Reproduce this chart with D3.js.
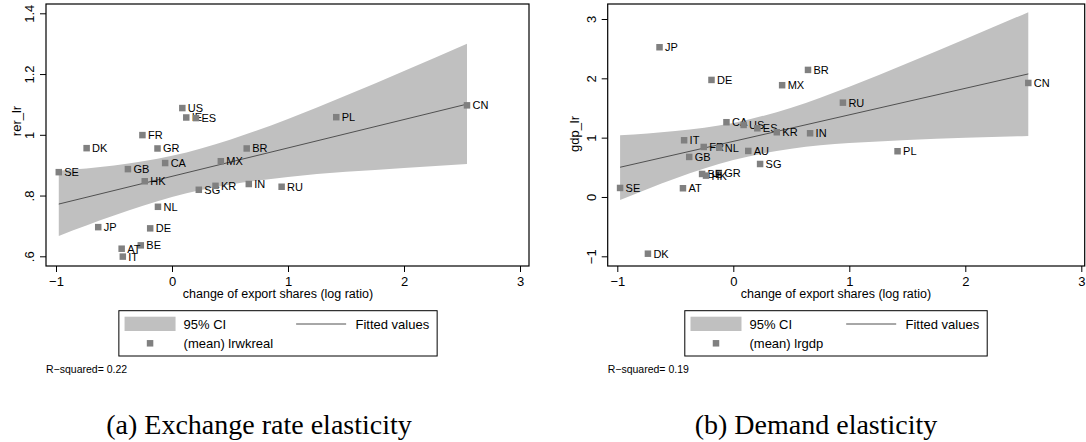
<!DOCTYPE html>
<html>
<head>
<meta charset="utf-8">
<script src="https://cdn.jsdelivr.net/npm/d3@7"></script>
<style>
  body { margin: 0; background: #fff; }
  svg text { font-family: "Liberation Sans", Arial, sans-serif; fill: #000; }
</style>
</head>
<body>
<div id="chart"></div>
<script>
// country codes, drawn in this order (later points sit on top of earlier labels)
const countries = ["SE","DK","FR","GR","CA","GB","BE","HK","US","IE","ES","MX","BR","SG","KR","IN","NL","JP","DE","AT","IT","RU","PL","CN","AU"];
// change of export shares (log ratio), shared by both panels
const exportShare = [-0.976,-0.736,-0.255,-0.125,-0.059,-0.380,-0.269,-0.235,0.089,0.123,0.207,0.421,0.644,0.231,0.375,0.662,-0.121,-0.636,-0.188,-0.434,-0.424,0.945,1.416,2.543,0.129];
// (mean) lrwkreal -> rer_lr, null = not in panel
const rerLr = [0.877,0.956,0.999,0.955,0.907,0.887,0.636,0.847,1.088,1.057,1.055,0.913,0.955,0.819,0.832,0.838,0.763,0.696,0.692,0.625,0.599,0.829,1.058,1.097,null];
// (mean) lrgdp -> gdp_lr
const gdpLr = [0.152,-0.956,0.843,0.405,1.260,0.675,0.388,0.360,1.214,null,1.158,1.884,2.142,0.556,1.091,1.074,0.831,2.524,1.973,0.147,0.956,1.590,0.771,1.922,0.776];

// fitted line end points and 95% CI band
const fitX = [-0.976, 2.543];
const rerFit = [0.772, 1.101];
const gdpFit = [0.501, 2.074];
const bandX = [-0.976, -0.5, 0, 0.5, 1, 1.5, 2, 2.543];
const rerLow  = [0.667, 0.734, 0.795, 0.836, 0.861, 0.878, 0.891, 0.904];
const rerHigh = [0.882, 0.899, 0.931, 0.984, 1.052, 1.129, 1.210, 1.300];
const gdpLow  = [-0.051, 0.313, 0.624, 0.815, 0.908, 0.962, 0.999, 1.029];
const gdpHigh = [1.040, 1.113, 1.249, 1.506, 1.859, 2.254, 2.663, 3.115];

const xTicks = [-1, 0, 1, 2, 3];
const xTickLabels = ["\u22121", "0", "1", "2", "3"];
const rerTicks = [0.6, 0.8, 1, 1.2, 1.4];
const rerTickLabels = [".6", ".8", "1", "1.2", "1.4"];
const gdpTicks = [-1, 0, 1, 2, 3];
const gdpTickLabels = ["\u22121", "0", "1", "2", "3"];

const W = 1086, H = 442;
const svg = d3.select("#chart").append("svg")
    .attr("width", W)
    .attr("height", H);

const bandColor = "#c0c0c0",
      markColor = "#808080",
      lineColor = "#505050";

function drawPanel(p) {
    const g = svg.append("g")
        .attr("transform", `translate(${p.left}, ${p.top})`);

    const x = d3.scaleLinear().domain([-1, 3]).range(p.xRange);
    const y = d3.scaleLinear().domain(p.yDomain).range(p.yRange);

    // CI band
    const area = d3.area()
        .x(d => x(d))
        .y0((d, i) => y(p.low[i]))
        .y1((d, i) => y(p.high[i]))
        .curve(d3.curveMonotoneX);
    g.append("path")
        .datum(bandX)
        .attr("d", area)
        .attr("fill", bandColor);

    // fitted values
    const line = d3.line()
        .x((d, i) => x(fitX[i]))
        .y(d => y(d));
    g.append("path")
        .datum(p.fit)
        .attr("d", line)
        .attr("fill", "none")
        .attr("stroke", lineColor)
        .attr("stroke-width", 1);

    // points with labels
    const pts = countries.map((c, i) => ({code: c, x: exportShare[i], y: p.values[i]}))
        .filter(d => d.y !== null);
    const pg = g.selectAll("g.pt")
        .data(pts)
        .enter()
        .append("g")
        .attr("class", "pt")
        .attr("transform", d => `translate(${x(d.x)}, ${y(d.y)})`);
    pg.append("rect")
        .attr("x", -3.25)
        .attr("y", -3.25)
        .attr("width", 6.5)
        .attr("height", 6.5)
        .attr("fill", markColor);
    pg.append("text")
        .attr("x", 5.5)
        .attr("dy", "0.36em")
        .style("font-size", "11px")
        .text(d => d.code);

    // frame
    g.append("rect")
        .attr("width", p.width)
        .attr("height", p.height)
        .attr("fill", "none")
        .attr("stroke", "#000")
        .attr("stroke-width", 1.2);

    // x axis
    const xa = g.append("g")
        .attr("transform", `translate(0, ${p.height})`)
        .call(d3.axisBottom(x).tickValues(xTicks).tickSize(6).tickPadding(5)
            .tickFormat((d, i) => xTickLabels[i]));
    xa.select(".domain").remove();
    xa.selectAll("text").style("font-size", "13px").attr("font-family", null);
    xa.selectAll("line").attr("stroke", "#000");

    // y axis, labels turned like Stata
    const ya = g.append("g")
        .call(d3.axisLeft(y).tickValues(p.yTicks).tickSize(6)
            .tickFormat((d, i) => p.yTickLabels[i]));
    ya.select(".domain").remove();
    ya.selectAll("line").attr("stroke", "#000");
    ya.selectAll("text")
        .attr("x", 0)
        .attr("y", -12)
        .attr("dy", 0)
        .attr("transform", "rotate(-90)")
        .attr("text-anchor", "middle")
        .style("font-size", "13px");

    // y title
    g.append("text")
        .attr("transform", `translate(${-p.yTitleOff}, ${p.yTitleY}) rotate(-90)`)
        .attr("text-anchor", "middle")
        .style("font-size", "13px")
        .text(p.yTitle);

    // x title
    svg.append("text")
        .attr("x", p.centerX)
        .attr("y", 298)
        .attr("text-anchor", "middle")
        .style("font-size", "12.5px")
        .text("change of export shares (log ratio)");

    // legend
    const lg = svg.append("g");
    const t1 = lg.append("text").attr("y", 324).attr("dy", "0.36em").style("font-size", "13px").text("95% CI");
    const t2 = lg.append("text").attr("y", 343.3).attr("dy", "0.36em").style("font-size", "13px").text(p.markLabel);
    const t3 = lg.append("text").attr("y", 324).attr("dy", "0.36em").style("font-size", "13px").text("Fitted values");
    const col1 = Math.max(t1.node().getComputedTextLength(), t2.node().getComputedTextLength());
    const w3 = t3.node().getComputedTextLength();
    const labX = 64.7, col2 = labX + col1 + 23;
    const boxW = col2 + 50 + 9.3 + w3 + 8;
    const bx = p.centerX - boxW / 2;
    lg.insert("rect", ":first-child")
        .attr("x", bx).attr("y", 310.7)
        .attr("width", boxW).attr("height", 45.3)
        .attr("fill", "#fff").attr("stroke", "#000").attr("stroke-width", 1);
    lg.append("rect")
        .attr("x", bx + 5.7).attr("y", 316.7)
        .attr("width", 51).attr("height", 14.3)
        .attr("fill", bandColor);
    lg.append("rect")
        .attr("x", bx + 5.7 + 25.5 - 3.25).attr("y", 343.3 - 3.25)
        .attr("width", 6.5).attr("height", 6.5)
        .attr("fill", markColor);
    lg.append("line")
        .attr("x1", bx + col2).attr("x2", bx + col2 + 50)
        .attr("y1", 324).attr("y2", 324)
        .attr("stroke", lineColor).attr("stroke-width", 1);
    t1.attr("x", bx + labX);
    t2.attr("x", bx + labX);
    t3.attr("x", bx + col2 + 59.3);

    // note
    svg.append("text")
        .attr("x", p.left)
        .attr("y", 373)
        .style("font-size", "10.5px")
        .text(p.note);

    // caption
    svg.append("text")
        .attr("x", p.capX)
        .attr("y", 434)
        .attr("text-anchor", "middle")
        .style("font-family", "'Liberation Serif', 'DejaVu Serif', serif")
        .style("font-size", "28px")
        .text(p.caption);
}

drawPanel({
    left: 46, top: 4, width: 483, height: 262,
    xRange: [10, 474],
    yDomain: [0.6, 1.4], yRange: [252.3, 9.3],
    yTicks: rerTicks, yTickLabels: rerTickLabels,
    low: rerLow, high: rerHigh, fit: rerFit, values: rerLr,
    yTitle: "rer_lr", yTitleOff: 25, yTitleY: 117,
    centerX: 278, markLabel: "(mean) lrwkreal",
    note: "R\u2212squared= 0.22",
    capX: 259, caption: "(a) Exchange rate elasticity"
});

drawPanel({
    left: 607.7, top: 4, width: 477, height: 262,
    xRange: [9.6, 473.6],
    yDomain: [-1, 3], yRange: [252.3, 15],
    yTicks: gdpTicks, yTickLabels: gdpTickLabels,
    low: gdpLow, high: gdpHigh, fit: gdpFit, values: gdpLr,
    yTitle: "gdp_lr", yTitleOff: 28.4, yTitleY: 130,
    centerX: 836, markLabel: "(mean) lrgdp",
    note: "R\u2212squared= 0.19",
    capX: 816, caption: "(b) Demand elasticity"
});
</script>
</body>
</html>
